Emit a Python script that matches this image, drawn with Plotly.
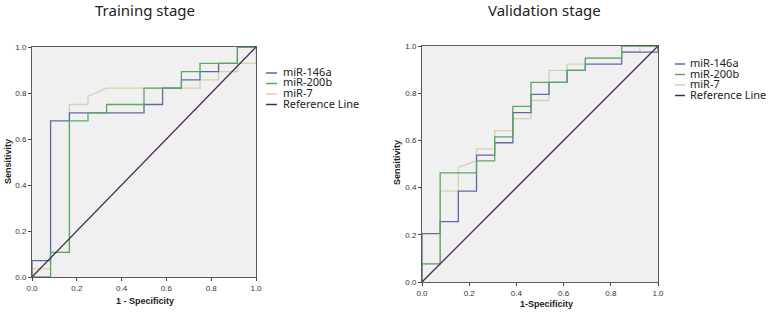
import plotly.graph_objects as go

# ---------------- data ----------------
# Training stage (12 negatives, 28 positives)
train_146a_x = [0, 0, 0.083, 0.083, 0.167, 0.167, 0.5, 0.5, 0.583, 0.583, 0.667, 0.667, 0.75, 0.75, 0.833, 0.833, 0.917, 0.917, 1]
train_146a_y = [0, 0.071, 0.071, 0.679, 0.679, 0.714, 0.714, 0.75, 0.75, 0.821, 0.821, 0.857, 0.857, 0.893, 0.893, 0.929, 0.929, 1, 1]

train_200b_x = [0, 0.083, 0.083, 0.167, 0.167, 0.25, 0.25, 0.333, 0.333, 0.5, 0.5, 0.667, 0.667, 0.75, 0.75, 0.917, 0.917, 1]
train_200b_y = [0, 0, 0.107, 0.107, 0.679, 0.679, 0.714, 0.714, 0.75, 0.75, 0.821, 0.821, 0.893, 0.893, 0.929, 0.929, 1, 1]

train_7_x = [0, 0, 0.083, 0.083, 0.167, 0.167, 0.25, 0.25, 0.333, 0.75, 0.75, 0.833, 0.833, 0.917, 0.917, 1, 1]
train_7_y = [0, 0.036, 0.036, 0.107, 0.107, 0.75, 0.75, 0.786, 0.821, 0.821, 0.857, 0.857, 0.893, 0.893, 0.929, 0.929, 1]

# Validation stage (13 negatives, 39 positives)
val_146a_x = [0, 0, 0.077, 0.077, 0.154, 0.154, 0.231, 0.231, 0.308, 0.308, 0.385, 0.385, 0.462, 0.462, 0.538, 0.538, 0.615, 0.615, 0.692, 0.692, 0.846, 0.846, 1, 1]
val_146a_y = [0, 0.205, 0.205, 0.256, 0.256, 0.385, 0.385, 0.538, 0.538, 0.59, 0.59, 0.718, 0.718, 0.795, 0.795, 0.846, 0.846, 0.897, 0.897, 0.923, 0.923, 0.974, 0.974, 1]

val_200b_x = [0, 0, 0.077, 0.077, 0.231, 0.231, 0.308, 0.308, 0.385, 0.385, 0.462, 0.462, 0.615, 0.615, 0.692, 0.692, 0.846, 0.846, 1]
val_200b_y = [0, 0.077, 0.077, 0.462, 0.462, 0.513, 0.513, 0.615, 0.615, 0.744, 0.744, 0.846, 0.846, 0.897, 0.897, 0.949, 0.949, 1, 1]

val_7_x = [0, 0, 0.077, 0.077, 0.154, 0.154, 0.231, 0.231, 0.308, 0.308, 0.385, 0.385, 0.462, 0.462, 0.538, 0.538, 0.615, 0.615, 0.692, 0.692, 0.846, 0.846, 0.923, 0.923, 1]
val_7_y = [0, 0.077, 0.077, 0.385, 0.385, 0.487, 0.513, 0.564, 0.564, 0.641, 0.641, 0.692, 0.692, 0.769, 0.769, 0.897, 0.897, 0.923, 0.923, 0.949, 0.949, 0.974, 0.974, 1, 1]

ref_x = [0, 1]
ref_y = [0, 1]

series_names = ["miR-146a", "miR-200b", "miR-7", "Reference Line"]
panel_titles = ["Training stage", "Validation stage"]
x_titles = ["1 - Specificity", "1-Specificity"]
y_title = "Sensitivity"
tick_vals = [0, 0.2, 0.4, 0.6, 0.8, 1.0]
tick_text = ["0.0", "0.2", "0.4", "0.6", "0.8", "1.0"]

# ---------------- style ----------------
colors = ["#5d6ba3", "#5aa865", "#d6d2ad", "#4a2c55"]
W, H = 768, 320

fig = go.Figure()

panels = [
    ("x", "y", [(train_146a_x, train_146a_y), (train_200b_x, train_200b_y), (train_7_x, train_7_y), (ref_x, ref_y)]),
    ("x2", "y2", [(val_146a_x, val_146a_y), (val_200b_x, val_200b_y), (val_7_x, val_7_y), (ref_x, ref_y)]),
]
for xa, ya, series in panels:
    # draw order: beige underneath, then blue, green, then reference line on top
    for idx in [2, 0, 1, 3]:
        sx, sy = series[idx]
        fig.add_trace(go.Scatter(x=sx, y=sy, mode="lines", xaxis=xa, yaxis=ya,
                                 line=dict(color=colors[idx], width=1.3),
                                 name=series_names[idx], showlegend=False,
                                 hoverinfo="skip", cliponaxis=False))

def px_x(p):
    return p / W

def px_y(p):
    return 1 - p / H

# plot area pixel boxes
boxes = [(32, 256, 47, 277), (422, 658, 46, 282)]

axis_common = dict(range=[0, 1], tickvals=tick_vals, ticktext=tick_text, ticks="outside",
                   ticklen=3, tickwidth=1, tickcolor="#444", showgrid=False, zeroline=False,
                   showline=True, linecolor="#5a5a5a", linewidth=1, mirror=True,
                   automargin=False,
                   tickfont=dict(family="Liberation Sans", size=8, color="#333"), fixedrange=True)

layout_axes = {}
for i, (x0, x1, y0, y1) in enumerate(boxes):
    sfx = "" if i == 0 else str(i + 1)
    layout_axes["xaxis" + sfx] = dict(axis_common, domain=[px_x(x0), px_x(x1)], anchor="y" + sfx)
    layout_axes["yaxis" + sfx] = dict(axis_common, domain=[px_y(y1), px_y(y0)], anchor="x" + sfx)

fig.update_layout(width=W, height=H, margin=dict(l=0, r=0, t=0, b=0, autoexpand=False),
                  paper_bgcolor="white", plot_bgcolor="#f0f0f0", showlegend=False,
                  **layout_axes)

annotations = []
shapes = []
title_pos = [(145, 10), (544, 10)]
xt_pos = [(145, 301), (546, 304)]
yt_pos = [(8, 162), (397, 163)]
for i in range(2):
    annotations.append(dict(text=panel_titles[i], x=px_x(title_pos[i][0]), y=px_y(title_pos[i][1]),
                            xref="paper", yref="paper", showarrow=False, xanchor="center", yanchor="middle",
                            font=dict(family="Noto Sans", size=15, color="#222")))
    annotations.append(dict(text="<b>" + x_titles[i] + "</b>", x=px_x(xt_pos[i][0]), y=px_y(xt_pos[i][1]),
                            xref="paper", yref="paper", showarrow=False, xanchor="center", yanchor="middle",
                            font=dict(family="Liberation Sans", size=9, color="#222")))
    annotations.append(dict(text="<b>" + y_title + "</b>", x=px_x(yt_pos[i][0]), y=px_y(yt_pos[i][1]),
                            xref="paper", yref="paper", showarrow=False, xanchor="center", yanchor="middle",
                            textangle=-90,
                            font=dict(family="Liberation Sans", size=9, color="#222")))

# legends (manual, short line symbols)
legend_specs = [
    dict(lx0=266, lx1=277, tx=281, ys=[71, 81.5, 92, 102.5]),
    dict(lx0=675, lx1=685, tx=688, ys=[62, 72.5, 83, 93.5]),
]
for spec in legend_specs:
    for k, name in enumerate(series_names):
        yc = spec["ys"][k]
        shapes.append(dict(type="line", xref="paper", yref="paper",
                           x0=px_x(spec["lx0"]), x1=px_x(spec["lx1"]),
                           y0=px_y(yc + 2), y1=px_y(yc + 2),
                           line=dict(color=colors[k], width=1.5)))
        annotations.append(dict(text=name, x=px_x(spec["tx"]), y=px_y(yc),
                                xref="paper", yref="paper", showarrow=False,
                                xanchor="left", yanchor="middle", height=10,
                                font=dict(family="Noto Sans", size=11, color="#222")))

fig.update_layout(annotations=annotations, shapes=shapes)
fig.write_html("out.html", config={"displayModeBar": False},
               post_script="document.body.style.margin='0';")
